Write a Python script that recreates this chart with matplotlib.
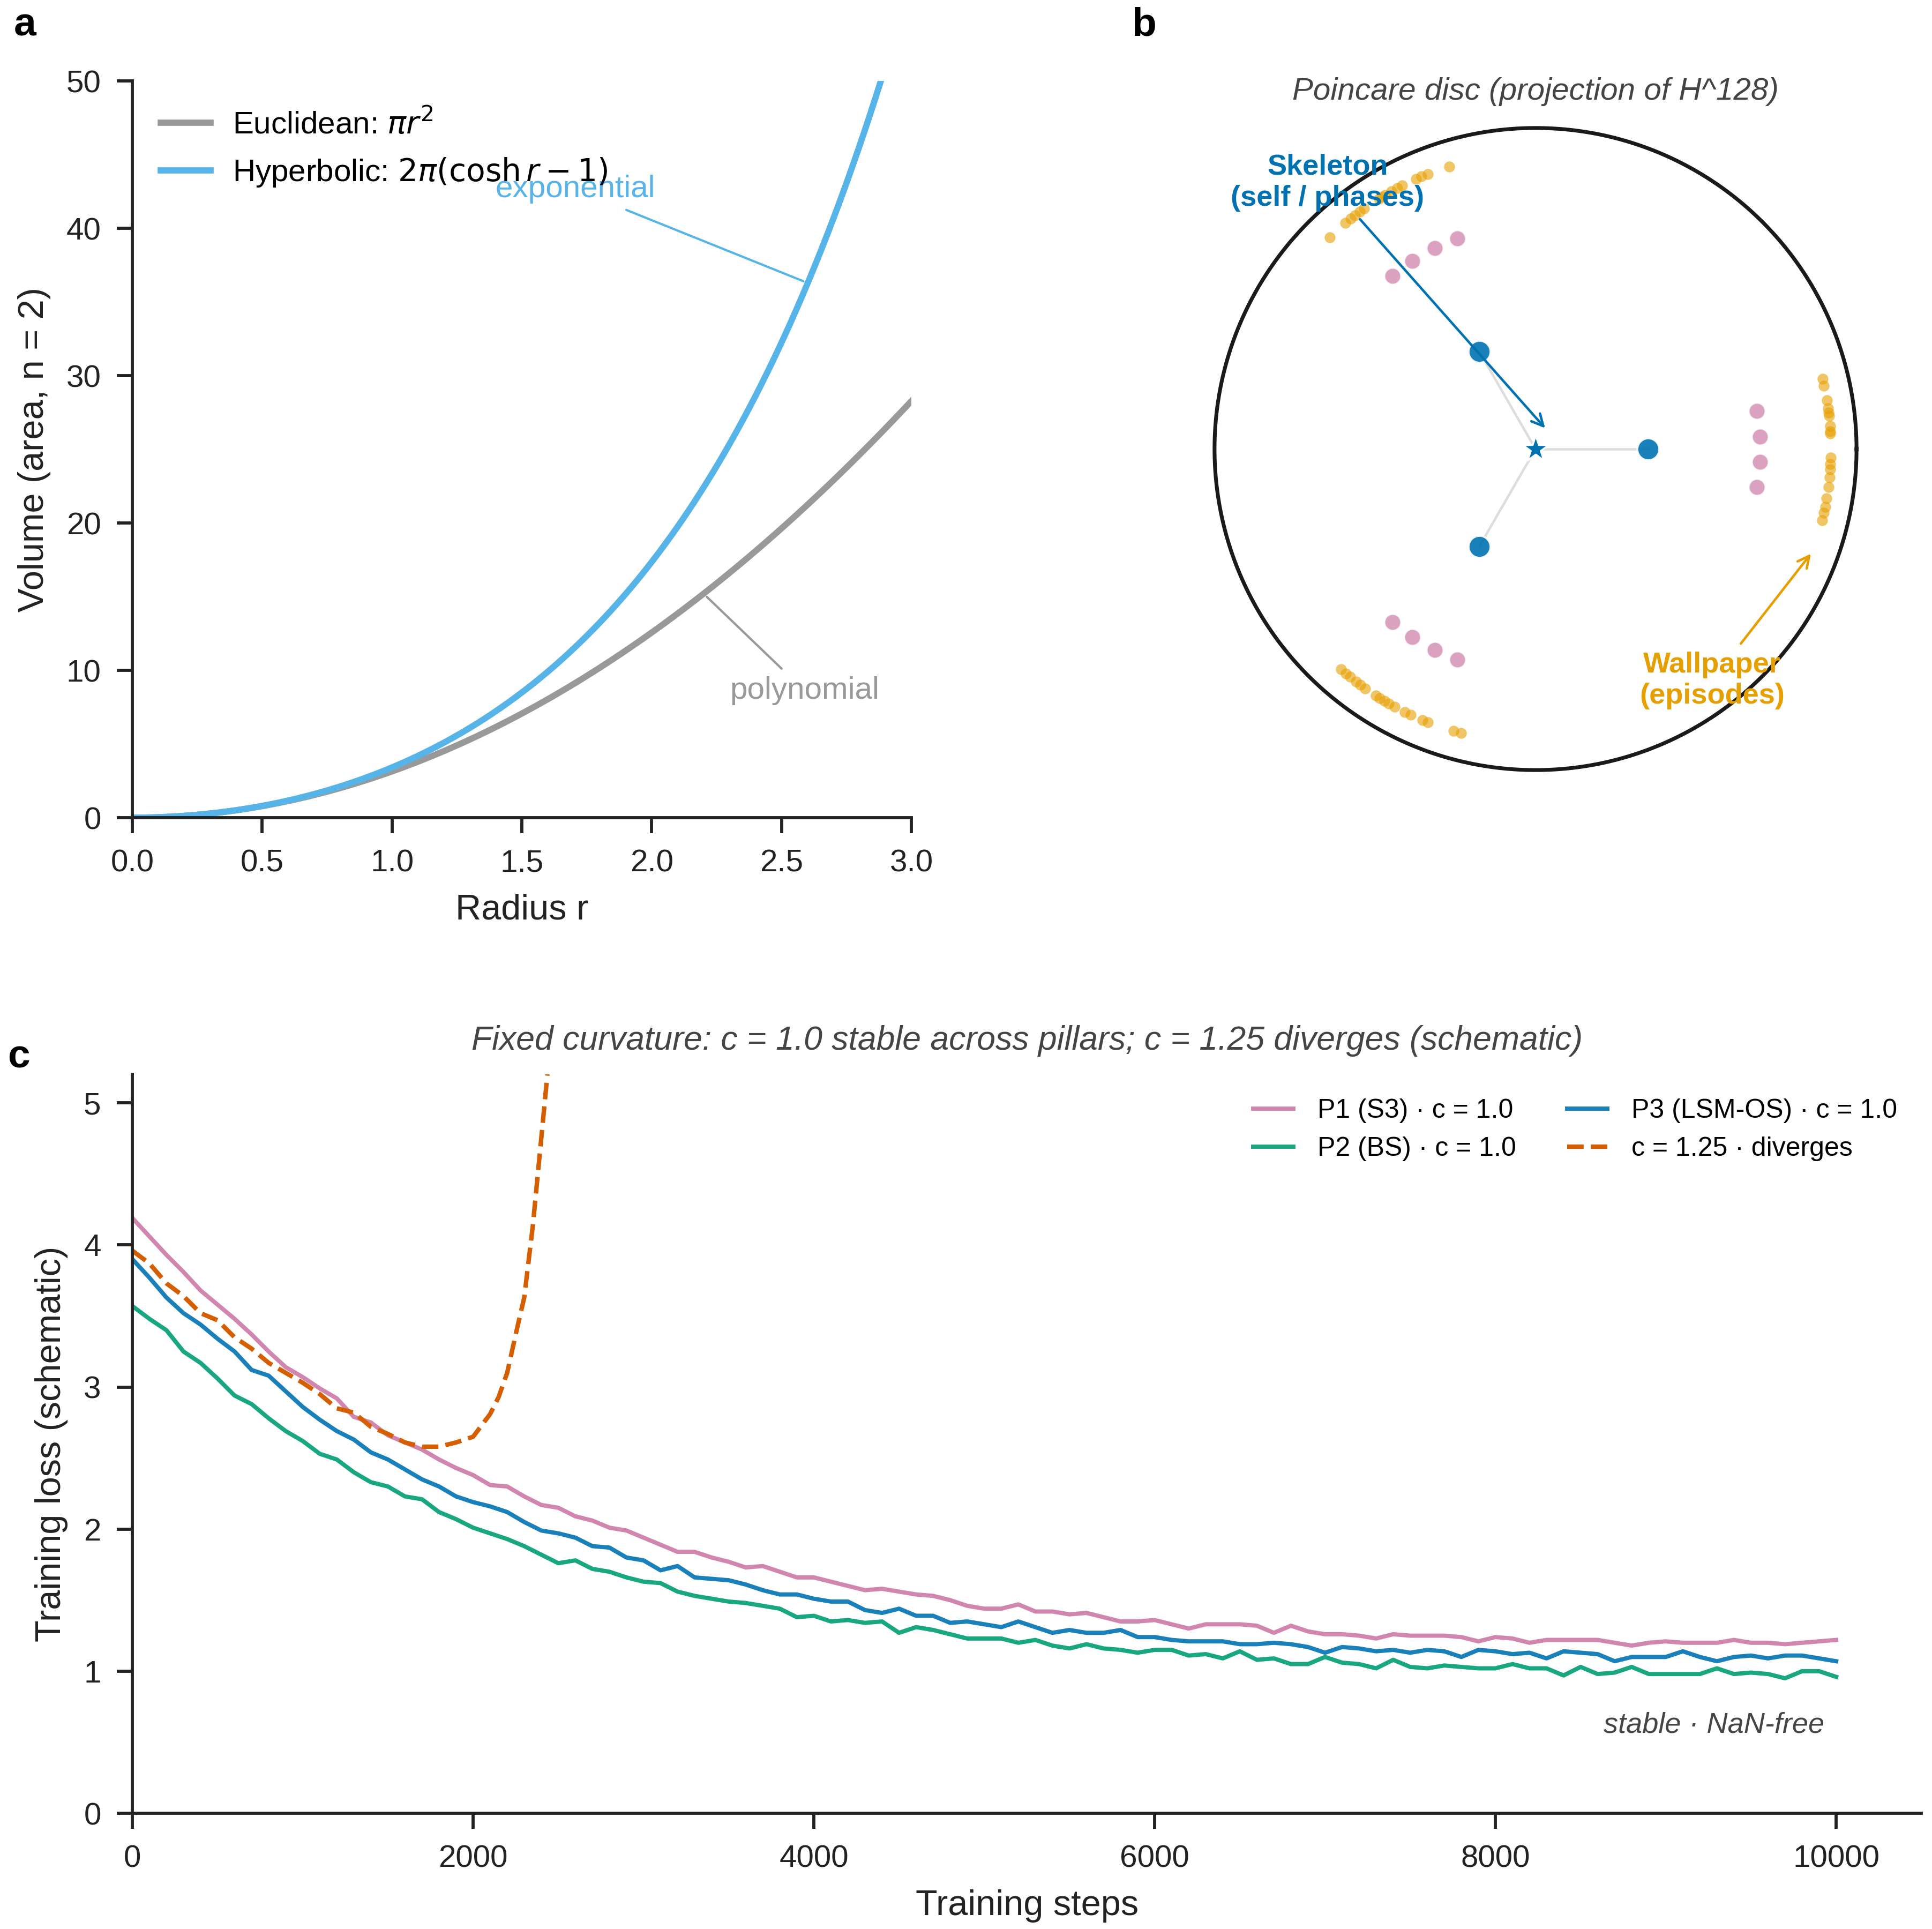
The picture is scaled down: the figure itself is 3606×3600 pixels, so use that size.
import matplotlib
matplotlib.use('Agg')
import matplotlib.pyplot as plt
import numpy as np

# ---------------- data ----------------
# panel a
radius = np.linspace(0.0, 3.0, 301)

# panel b (Poincare disc): node angles (deg), cluster angles (deg) and radii
node_angles = [0, 120, 240]
node_radius = 0.35
pink_angles_tl = [110.3, 116.7, 123.2, 129.6]
pink_angles_r = [9.7, 3.2, -3.3, -9.7]
pink_angles_b = [230.4, 236.8, 243.3, 249.7]
pink_radius = 0.70
orange_angles_tl = [134.2, 130.1, 128.7, 127.7, 126.5, 125.5, 122.0, 121.3, 120.6,
                    119.2, 117.9, 116.8, 113.9, 112.7, 111.4, 107.0]
orange_angles_r = [13.7, 12.4, 9.5, 7.9, 7.1, 6.5, 4.5, 3.4, 3.0, -1.7, -2.9, -4.0,
                   -5.5, -7.4, -9.6, -11.3, -12.5, -14.0]
orange_angles_b = [228.5, 229.8, 230.8, 232.3, 233.4, 234.6, 237.1, 238.0, 239.1,
                   240.0, 241.3, 243.6, 244.9, 247.4, 248.5, 253.8, 255.3]
orange_radius_tl = 0.92
orange_radius_r = 0.92
orange_radius_b = 0.915

# panel c
steps = list(range(0, 10001, 100))
loss_p1 = [4.19, 4.06, 3.93, 3.81, 3.68, 3.58, 3.48, 3.37, 3.25, 3.14, 3.07, 2.99, 2.92, 2.79,
           2.75, 2.66, 2.61, 2.56, 2.49, 2.43, 2.38, 2.31, 2.30, 2.23, 2.17, 2.15,
           2.09, 2.06, 2.01, 1.99, 1.94, 1.89, 1.84, 1.84, 1.80, 1.77, 1.73, 1.74, 1.70,
           1.66, 1.66, 1.63, 1.60, 1.57, 1.58, 1.56, 1.54, 1.53, 1.50, 1.46, 1.44,
           1.44, 1.47, 1.42, 1.42, 1.40, 1.41, 1.38, 1.35, 1.35, 1.36, 1.33, 1.30, 1.33,
           1.33, 1.33, 1.32, 1.27, 1.32, 1.28, 1.26, 1.26, 1.25, 1.23, 1.26, 1.25,
           1.25, 1.25, 1.24, 1.21, 1.24, 1.23, 1.20, 1.22, 1.22, 1.22, 1.22, 1.20, 1.18,
           1.20, 1.21, 1.20, 1.20, 1.20, 1.22, 1.20, 1.20, 1.19, 1.20, 1.21, 1.22]
loss_p2 = [3.57, 3.48, 3.40, 3.25, 3.17, 3.06, 2.94, 2.88, 2.78, 2.69, 2.62, 2.53, 2.49, 2.40,
           2.33, 2.30, 2.23, 2.21, 2.12, 2.07, 2.01, 1.97, 1.93, 1.88, 1.82, 1.76,
           1.78, 1.72, 1.70, 1.66, 1.63, 1.62, 1.56, 1.53, 1.51, 1.49, 1.48, 1.46, 1.44,
           1.38, 1.39, 1.35, 1.36, 1.34, 1.35, 1.27, 1.31, 1.29, 1.26, 1.23, 1.23,
           1.23, 1.20, 1.22, 1.18, 1.16, 1.19, 1.16, 1.15, 1.13, 1.15, 1.15, 1.11, 1.12,
           1.09, 1.14, 1.08, 1.09, 1.05, 1.05, 1.10, 1.06, 1.05, 1.02, 1.08, 1.03,
           1.02, 1.04, 1.03, 1.02, 1.02, 1.05, 1.02, 1.02, 0.97, 1.03, 0.98, 0.99, 1.03,
           0.98, 0.98, 0.98, 0.98, 1.02, 0.98, 0.99, 0.98, 0.95, 1.00, 1.00, 0.96]
loss_p3 = [3.90, 3.77, 3.63, 3.52, 3.44, 3.34, 3.25, 3.12, 3.08, 2.97, 2.86, 2.77, 2.69, 2.63,
           2.54, 2.49, 2.42, 2.35, 2.30, 2.23, 2.19, 2.16, 2.12, 2.05, 1.99, 1.97,
           1.94, 1.88, 1.87, 1.80, 1.78, 1.71, 1.74, 1.66, 1.65, 1.64, 1.61, 1.57, 1.54,
           1.54, 1.51, 1.49, 1.49, 1.43, 1.41, 1.44, 1.39, 1.39, 1.34, 1.35, 1.33,
           1.31, 1.35, 1.31, 1.27, 1.29, 1.27, 1.27, 1.29, 1.24, 1.24, 1.22, 1.21, 1.21,
           1.21, 1.19, 1.19, 1.20, 1.19, 1.17, 1.13, 1.17, 1.16, 1.14, 1.15, 1.13,
           1.15, 1.14, 1.10, 1.15, 1.14, 1.12, 1.13, 1.09, 1.14, 1.13, 1.12, 1.07, 1.10,
           1.10, 1.10, 1.14, 1.10, 1.07, 1.10, 1.11, 1.09, 1.11, 1.11, 1.09, 1.07]
steps_div = [0, 100, 200, 300, 400, 500, 600, 700, 800, 900, 1000, 1100, 1200, 1300, 1400,
             1500, 1600, 1700, 1800, 1900, 2000, 2100, 2150, 2200, 2250, 2300, 2350, 2400,
             2440, 2470]
loss_div = [3.96, 3.87, 3.73, 3.64, 3.52, 3.47, 3.35, 3.27, 3.17, 3.10, 3.03, 2.95, 2.85,
            2.82, 2.72, 2.67, 2.61, 2.58, 2.58, 2.61, 2.65, 2.81, 2.93, 3.10, 3.37, 3.63,
            4.13, 4.75, 5.25, 5.70]

# ---------------- style ----------------
plt.rcParams['font.family'] = ['Liberation Sans', 'DejaVu Sans']
plt.rcParams['axes.linewidth'] = 1.4
plt.rcParams['axes.edgecolor'] = '#222222'
plt.rcParams['xtick.major.width'] = 1.4
plt.rcParams['ytick.major.width'] = 1.4
plt.rcParams['xtick.major.size'] = 7
plt.rcParams['ytick.major.size'] = 7
plt.rcParams['xtick.major.pad'] = 7
plt.rcParams['ytick.major.pad'] = 7
plt.rcParams['xtick.color'] = '#222222'
plt.rcParams['ytick.color'] = '#222222'
plt.rcParams['xtick.labelsize'] = 14
plt.rcParams['ytick.labelsize'] = 14
plt.rcParams['axes.labelsize'] = 16
plt.rcParams['axes.labelpad'] = 7
plt.rcParams['axes.labelcolor'] = '#222222'

C_GRAY = '#999999'
C_SKY = '#56B4E9'
C_PINK = '#CC79A7'
C_GREEN = '#009E73'
C_BLUE = '#0072B2'
C_ORANGE = '#E69F00'
C_VERM = '#D55E00'

fig = plt.figure(figsize=(3606 / 300, 3600 / 300), dpi=300)

# ---------------- panel a ----------------
axA = fig.add_axes([0.0685, 0.5761, 0.4032, 0.3819])
eucl = np.pi * radius ** 2
hyp = 2 * np.pi * (np.cosh(radius) - 1)
axA.plot(radius, eucl, color=C_GRAY, lw=2.8, label=r'Euclidean: $\pi r^2$')
axA.plot(radius, hyp, color=C_SKY, lw=2.8, label=r'Hyperbolic: $2\pi(\cosh r - 1)$')
axA.set_xlim(0, 3)
axA.set_ylim(0, 50)
axA.set_xticks([0, 0.5, 1.0, 1.5, 2.0, 2.5, 3.0])
axA.set_yticks([0, 10, 20, 30, 40, 50])
axA.set_xlabel('Radius r')
axA.set_ylabel('Volume (area, n = 2)')
for s in ['top', 'right']:
    axA.spines[s].set_visible(False)
axA.legend(loc='upper left', frameon=False, fontsize=14, handlelength=1.6,
           handletextpad=0.7)
axA.annotate('exponential', xy=(2.6, 36.3), xytext=(1.705, 42.65), color=C_SKY,
             fontsize=14, ha='center', va='center',
             arrowprops=dict(arrowstyle='-', color=C_SKY, lw=1.0))
axA.annotate('polynomial', xy=(2.2, 15.2), xytext=(2.589, 8.62), color=C_GRAY,
             fontsize=14, ha='center', va='center',
             arrowprops=dict(arrowstyle='-', color=C_GRAY, lw=1.0))

# ---------------- panel b ----------------
axB = fig.add_axes([2177 / 3606, 1 - 1527 / 3600, 1378 / 3606, 1378 / 3600])
axB.set_xlim(-1.15, 1.15)
axB.set_ylim(-1.15, 1.15)
axB.axis('off')
th = np.linspace(0, 2 * np.pi, 400)
axB.plot(np.cos(th), np.sin(th), color='#1a1a1a', lw=1.7, zorder=1)


def polar(angles, r):
    a = np.deg2rad(np.array(angles, dtype=float))
    return r * np.cos(a), r * np.sin(a)


nx, ny = polar(node_angles, node_radius)
for x, y in zip(nx, ny):
    axB.plot([0, x], [0, y], color='#dddddd', lw=1.1, zorder=1)

for ang, rr in [(orange_angles_tl, orange_radius_tl), (orange_angles_r, orange_radius_r),
                (orange_angles_b, orange_radius_b)]:
    ox, oy = polar(ang, rr)
    axB.scatter(ox, oy, s=24, color=C_ORANGE, alpha=0.6, linewidths=0, zorder=2)
for ang in [pink_angles_tl, pink_angles_r, pink_angles_b]:
    px, py = polar(ang, pink_radius)
    axB.scatter(px, py, s=52, color=C_PINK, alpha=0.7, edgecolors='white',
                linewidths=0.6, zorder=3)
axB.scatter(nx, ny, s=95, color=C_BLUE, alpha=0.9, edgecolors='white',
            linewidths=0.8, zorder=4)
axB.scatter([0], [0], s=150, marker='*', color=C_BLUE, edgecolors='white',
            linewidths=0.8, zorder=5)

axB.text(0, 1.113, 'Poincare disc (projection of H^128)', ha='center', va='center',
         fontsize=14, style='italic', color='#444444')
axB.annotate('Skeleton\n(self / phases)', xy=(0.03, 0.065), xytext=(-0.648, 0.83),
             ha='center', va='center', fontsize=13, fontweight='bold', color=C_BLUE,
             arrowprops=dict(arrowstyle='->', color=C_BLUE, lw=1.1, shrinkB=0),
             zorder=6)
axB.annotate('Wallpaper\n(episodes)', xy=(0.858, -0.326), xytext=(0.55, -0.721),
             ha='center', va='center', fontsize=13, fontweight='bold', color=C_ORANGE,
             arrowprops=dict(arrowstyle='->', color=C_ORANGE, lw=1.1, shrinkB=0),
             zorder=6)

# ---------------- panel c ----------------
axC = fig.add_axes([0.0685, 0.06, 0.926, 0.383])
axC.plot(steps, loss_p1, color=C_PINK, lw=1.9, alpha=0.9, label='P1 (S3) · c = 1.0')
axC.plot(steps, loss_p2, color=C_GREEN, lw=1.9, alpha=0.9, label='P2 (BS) · c = 1.0')
axC.plot(steps, loss_p3, color=C_BLUE, lw=1.9, alpha=0.9, label='P3 (LSM-OS) · c = 1.0')
axC.plot(steps_div, loss_div, color=C_VERM, lw=2.0, ls='--', label='c = 1.25 · diverges')
axC.set_xlim(0, 10500)
axC.set_ylim(0, 5.2)
axC.set_xticks([0, 2000, 4000, 6000, 8000, 10000])
axC.set_yticks([0, 1, 2, 3, 4, 5])
axC.set_xlabel('Training steps')
axC.set_ylabel('Training loss (schematic)')
for s in ['top', 'right']:
    axC.spines[s].set_visible(False)
axC.set_title('Fixed curvature: c = 1.0 stable across pillars; c = 1.25 diverges (schematic)',
              fontsize=15, style='italic', color='#444444', pad=11)
axC.legend(loc='upper right', ncol=2, frameon=False, fontsize=12, handlelength=1.5,
           handletextpad=0.9, columnspacing=1.9)
axC.text(9930, 0.62, 'stable · NaN-free', ha='right', va='center', fontsize=13,
         style='italic', color='#444444')

# panel letters
fig.text(0.0128, 0.987, 'a', fontsize=18, fontweight='bold', ha='center', va='center')
fig.text(0.592, 0.987, 'b', fontsize=18, fontweight='bold', ha='center', va='center')
fig.text(0.0096, 0.452, 'c', fontsize=18, fontweight='bold', ha='center', va='center')

fig.savefig('out.png', dpi=300)
